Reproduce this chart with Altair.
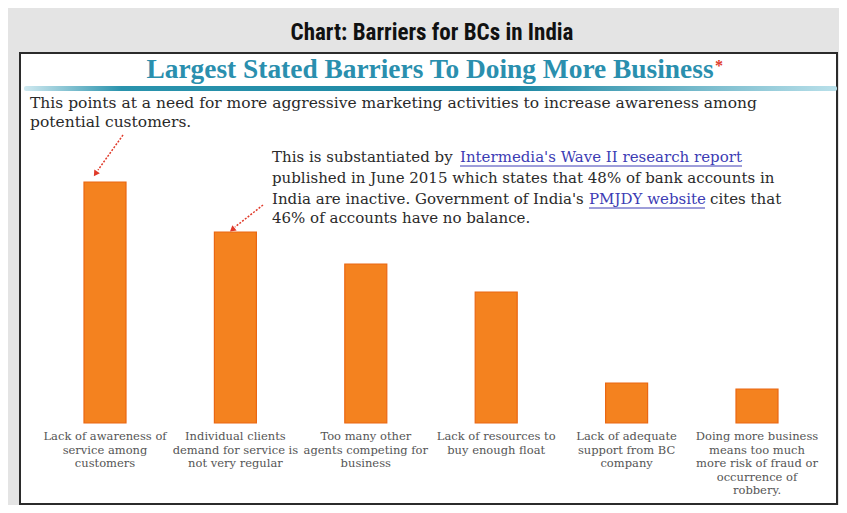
import altair as alt
import pandas as pd

# ---- data ----
categories = [
    "Lack of awareness of|service among|customers",
    "Individual clients|demand for service is|not very regular",
    "Too many other|agents competing for|business",
    "Lack of resources to|buy enough float",
    "Lack of adequate|support from BC|company",
    "Doing more business|means too much|more risk of fraud or|occurrence of|robbery.",
]
values = [241, 191, 159, 131, 40, 34]

title_text = "Chart: Barriers for BCs in India"
subtitle_text = "Largest Stated Barriers To Doing More Business"
body_lines = "This points at a need for more aggressive marketing activities to increase awareness among|potential customers."
note_l1a = "This is substantiated by"
note_l1b = "Intermedia's Wave II research report"
note_l2 = "published in June 2015 which states that 48% of bank accounts  in"
note_l3a = "India are inactive. Government of India's"
note_l3b = "PMJDY website"
note_l3c = "cites that"
note_l4 = "46% of accounts have no balance."

df = pd.DataFrame({"label": categories, "value": values})
one = alt.Data(values=[{}])

SERIF = "DejaVu Serif"
xscale = alt.Scale(range=[19.8, 802.2], paddingInner=0, paddingOuter=0)
X = alt.X("label:N", sort=None, axis=None, scale=xscale)

bars = alt.Chart(df).mark_bar(width=42, color="#f4821f", stroke="#ea6712", strokeWidth=1.2).encode(
    x=X,
    y=alt.Y("value:Q", axis=None, scale=alt.Scale(domain=[-81, 370], nice=False, zero=False)),
)

labels = alt.Chart(df).mark_text(
    lineBreak="|", baseline="top", align="center", font=SERIF, fontSize=11.5,
    color="#555555", lineHeight=13.5,
).encode(x=X, y=alt.value(378), text="label:N")

def txt(text, x, y, **kw):
    base = dict(align="left", baseline="middle", font=SERIF, fontSize=15, color="#2a2a2a")
    base.update(kw)
    return alt.Chart(one).mark_text(**base).encode(
        x=alt.value(x), y=alt.value(y), text=alt.value(text))

title = txt(title_text, 412, -20, align="center",
            font="Liberation Sans Narrow, Roboto Condensed, Liberation Sans, sans-serif",
            fontWeight="bold", fontSize=23, color="#111111")
subtitle = txt(subtitle_text, 410, 17, align="center", font="Liberation Serif",
               fontWeight="bold", fontSize=27.4, color="#2a8fae")
star = txt("*", 695, 13, font="Liberation Serif", fontWeight="bold", fontSize=16, color="#e03a2a")

swoosh = alt.Chart(one).mark_rect(
    cornerRadius=2,
    fill=alt.Gradient(
        gradient="linear", x1=0, x2=1, y1=0, y2=0,
        stops=[alt.GradientStop(offset=0, color="#cfe9f0"),
               alt.GradientStop(offset=0.12, color="#2a93ad"),
               alt.GradientStop(offset=0.6, color="#1c87a3"),
               alt.GradientStop(offset=1, color="#b9e0ea")],
    ),
).encode(x=alt.value(4), x2=alt.value(817), y=alt.value(33), y2=alt.value(38))

body = txt(body_lines, 10, 50, fontSize=15.5, lineBreak="|", lineHeight=19)

BLUE = "#3c3cb4"
n1a = txt(note_l1a, 252, 104)
n1b = txt(note_l1b, 440, 104, color=BLUE)
n2 = txt(note_l2, 252, 125)
n3a = txt(note_l3a, 252, 146)
n3b = txt(note_l3b, 569, 146, color=BLUE)
n3c = txt(note_l3c, 690, 146)
n4 = txt(note_l4, 252, 165)

def line(x1, y1, x2, y2, color, width=1, dash=None):
    kw = dict(color=color, strokeWidth=width)
    if dash:
        kw["strokeDash"] = dash
    return alt.Chart(one).mark_rule(**kw).encode(
        x=alt.value(x1), y=alt.value(y1), x2=alt.value(x2), y2=alt.value(y2))

ul1 = line(440, 113, 722, 113, BLUE)
ul3 = line(569, 155, 685, 155, BLUE)

RED = "#e03a2a"
arrow1 = line(103, 82, 78, 117, RED, 1.5, [2, 1.5])
arrow2 = line(243, 152, 215, 174, RED, 1.5, [2, 1.5])
head1 = alt.Chart(one).mark_point(shape="triangle", filled=True, size=45, color=RED, angle=214, opacity=1).encode(
    x=alt.value(76), y=alt.value(120))
head2 = alt.Chart(one).mark_point(shape="triangle", filled=True, size=45, color=RED, angle=231, opacity=1).encode(
    x=alt.value(213), y=alt.value(176))

chart = alt.layer(
    swoosh, bars, labels, title, subtitle, star, body,
    n1a, n1b, n2, n3a, n3b, n3c, n4, ul1, ul3,
    arrow1, arrow2, head1, head2,
).properties(
    width=817, height=451,
    padding={"left": 12, "top": 45, "right": 2, "bottom": 1},
    autosize=alt.AutoSizeParams(type="none"),
    background="#e4e4e4",
).configure_view(fill="white", stroke="#2b2b2b", strokeWidth=2)

chart.save("out.html", embed_options={"renderer": "svg", "actions": False})
